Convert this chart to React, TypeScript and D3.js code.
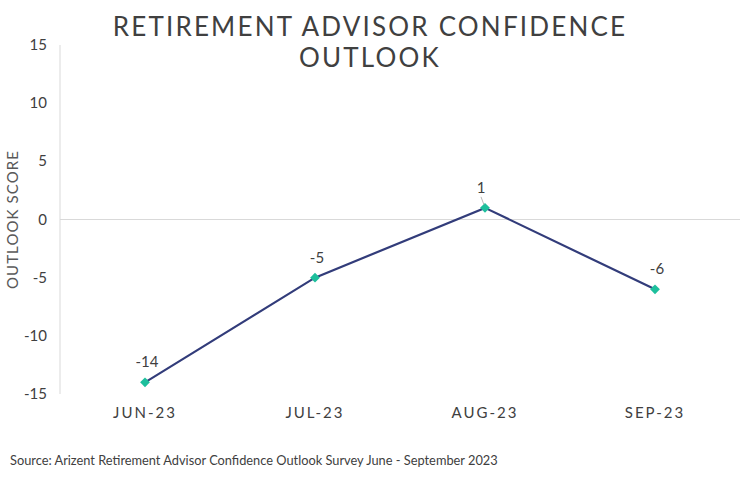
import React from "react";
import * as d3 from "d3";

const categories = ["JUN-23", "JUL-23", "AUG-23", "SEP-23"];
const values = [-14, -5, 1, -6];
const yTicks = [15, 10, 5, 0, -5, -10, -15];
const titleLines = ["RETIREMENT ADVISOR CONFIDENCE", "OUTLOOK"];
const yTitle = "OUTLOOK SCORE";
const source = "Source: Arizent Retirement Advisor Confidence Outlook Survey June - September 2023";

export default function App() {
  const W = 740, H = 502;
  const x = d3.scaleBand<string>().domain(categories).range([60, 740]);
  const y = d3.scaleLinear().domain([-15, 15]).range([394, 45]);
  const font = "Lato, 'Open Sans', sans-serif";
  const line = d3.line<number>()
    .x((_, i) => x(categories[i])! + x.bandwidth() / 2)
    .y((d) => y(d));
  const square = d3.symbol().type(d3.symbolSquare).size(48)();
  return (
    <svg width={W} height={H} style={{ position: "absolute", left: 0, top: 0, background: "#fff" }}>
      <rect width={W} height={H} fill="#fff" />
      {titleLines.map((t, i) => (
        <text key={i} x={370} y={36 + i * 31} textAnchor="middle" fontFamily={font} fontSize={26}
          fill="#404040" letterSpacing={2.2} fontWeight={400}>{t}</text>
      ))}
      <line x1={60} x2={60} y1={45} y2={394} stroke="#d9d9d9" strokeWidth={1} />
      <line x1={60} x2={740} y1={y(0)} y2={y(0)} stroke="#d9d9d9" strokeWidth={1} />
      {yTicks.map((t) => (
        <text key={t} x={47} y={y(t) + 5} textAnchor="end" fontFamily={font} fontSize={15} fill="#404040">{t}</text>
      ))}
      <text transform={`translate(18,${y(0)}) rotate(-90)`} textAnchor="middle" fontFamily={font}
        fontSize={15} fill="#595959" letterSpacing={1.1}>{yTitle}</text>
      {categories.map((c) => (
        <text key={c} x={x(c)! + x.bandwidth() / 2} y={418} textAnchor="middle" fontFamily={font}
          fontSize={15} fill="#404040" letterSpacing={2}>{c}</text>
      ))}
      <path d={line(values)!} fill="none" stroke="#323c7a" strokeWidth={2.2} />
      {values.map((v, i) => {
        const cx = x(categories[i])! + x.bandwidth() / 2;
        const cy = y(v);
        return (
          <g key={i}>
            <path d={square} transform={`translate(${cx},${cy}) rotate(45)`} fill="#1dbf9c" />
            {i === 2 && <line x1={cx - 1} y1={cy - 3} x2={cx - 4} y2={cy - 11} stroke="#a6a6a6" strokeWidth={0.8} />}
            <text x={i === 2 ? cx - 4 : cx + 2} y={cy - 15} textAnchor="middle" fontFamily={font}
              fontSize={15} fill="#404040">{v}</text>
          </g>
        );
      })}
      <text x={10} y={465} fontFamily={font} fontSize={12.8} fill="#404040">{source}</text>
    </svg>
  );
}
